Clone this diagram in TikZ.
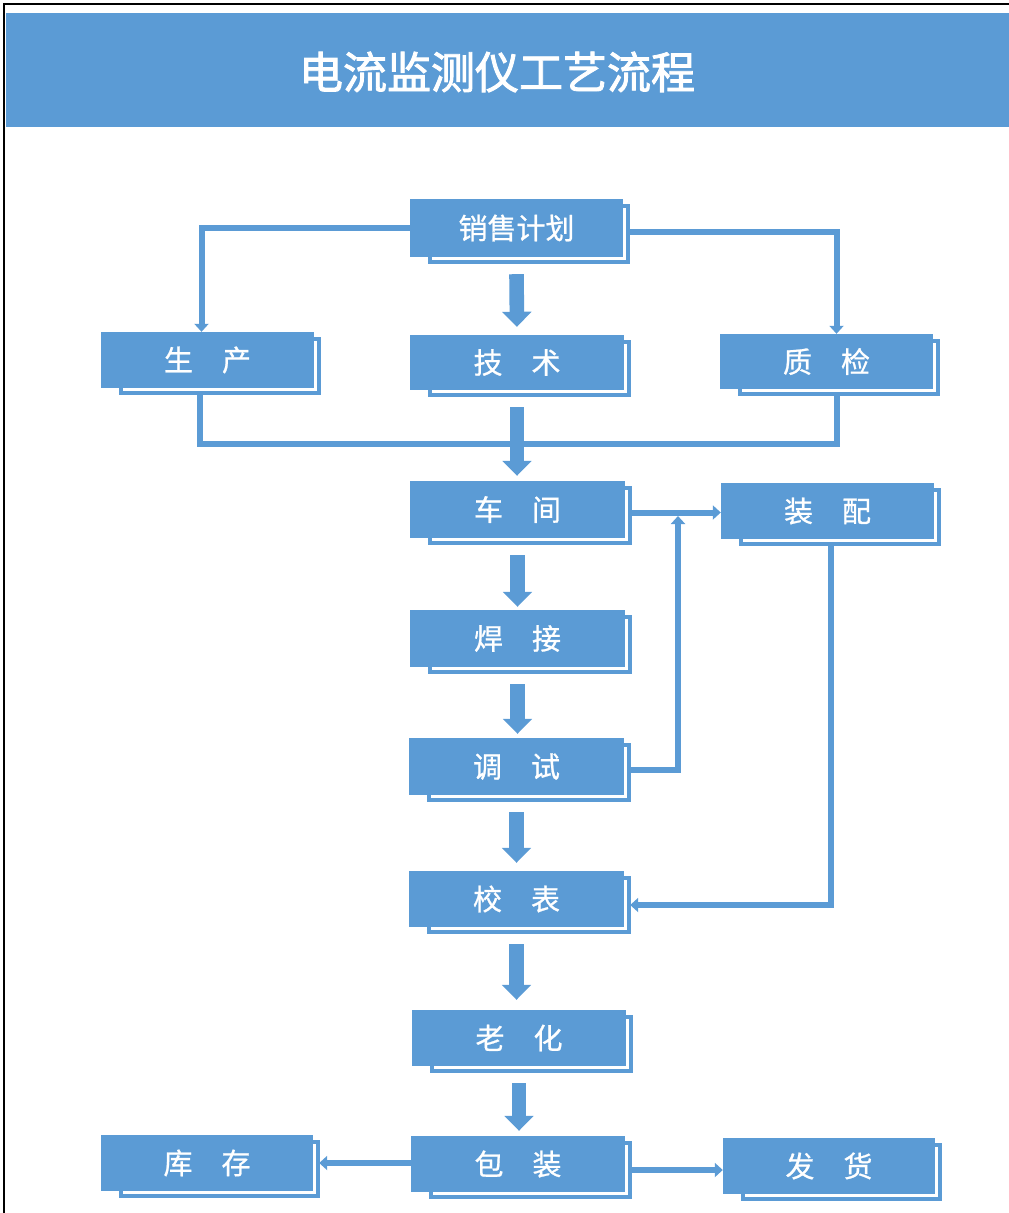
\documentclass[tikz,border=0pt]{standalone}
\usepackage{fontspec}
\setmainfont{Noto Sans CJK SC}
\newfontfamily\titlefont[FakeBold=2]{Noto Sans CJK SC}
\newfontfamily\labelfont[FakeBold=0.8]{Noto Sans CJK SC}
\usetikzlibrary{arrows.meta,calc}
\definecolor{fblue}{HTML}{5B9BD5}
\tikzset{
  mainbox/.style={fill=fblue, draw=none, inner sep=0pt, text=white,
    font=\labelfont\fontsize{29}{34}\selectfont, anchor=center},
  shadowline/.style={draw=fblue, line width=4.5pt, fill=white},
  conn/.style={draw=fblue, line width=6pt},
  tip/.style={-{Triangle[width=14pt,length=8pt]}},
  blockarrow/.style={draw=fblue, line width=14.6pt, -{Triangle[width=28.5pt,length=15pt]}},
}
\newcommand\flowbox[6]{% name, x1, y1, x2, y2, text
  \draw[shadowline] (#2+20,#3+7) rectangle (#4+5,#5+5);
  \node[mainbox, minimum width={(#4-#2)*1pt}, minimum height={(#5-#3)*1pt}]
    (#1) at ({(#2+#4)/2},{(#3+#5)/2}) {#6};
}
\begin{document}
\begin{tikzpicture}[x=1pt,y=-1pt]
\useasboundingbox (0,0) rectangle (1009,1213);
% frame and title
\draw[black, line width=2pt] (4,1220) -- (4,4) -- (1015,4);
\fill[fblue] (6,13) rectangle (1012,127);
\node[text=white, font=\titlefont\fontsize{44}{50}\selectfont] (title) at (497,72) {电流监测仪工艺流程};
% boxes
\flowbox{xs}{410}{199}{623}{257}{销售计划}
\flowbox{sc}{101}{332}{314}{388}{生\quad 产}
\flowbox{js}{410}{335}{624}{390}{技\quad 术}
\flowbox{zj}{720}{334}{933}{389}{质\quad 检}
\flowbox{cj}{410}{481}{625}{538}{车\quad 间}
\flowbox{zp}{721}{483}{934}{539}{装\quad 配}
\flowbox{hj}{410}{610}{625}{667}{焊\quad 接}
\flowbox{ts}{409}{738}{624}{795}{调\quad 试}
\flowbox{jb}{409}{871}{624}{927}{校\quad 表}
\flowbox{lh}{412}{1010}{626}{1066}{老\quad 化}
\flowbox{kc}{101}{1135}{313}{1191}{库\quad 存}
\flowbox{bz}{411}{1136}{625}{1192}{包\quad 装}
\flowbox{fh}{723}{1138}{935}{1194}{发\quad 货}
% thin connectors
\draw[conn,tip] (xs.west) -| ([xshift=-6pt]sc.north);
\draw[conn,tip] ([xshift=5pt,yshift=-4pt]xs.east) -| ([xshift=10pt]zj.north);
\coordinate (m) at (517,444);
\draw[conn] ([xshift=-8pt,yshift=-6pt]sc.south) |- (m) -| ([xshift=10pt,yshift=-6pt]zj.south);
\coordinate (c1) at ([xshift=5pt,yshift=-3pt]cj.east);
\draw[conn,tip] (c1) -- (c1 -| zp.west);
\coordinate (j1) at (678,516);
\draw[conn,tip] ([xshift=5pt,yshift=-3pt]ts.east) -| (j1);
\draw[conn,tip] ([xshift=3pt,yshift=-7pt]zp.south) |- ([xshift=6pt,yshift=-6pt]jb.east);
\draw[conn,tip] ([yshift=1pt]bz.west) -- ([xshift=6pt,yshift=1pt]bz.west -| kc.east);
\coordinate (c2) at ([xshift=5pt,yshift=-6pt]bz.east);
\draw[conn,tip] (c2) -- (c2 -| fh.west);
% block arrows
\draw[blockarrow] ([yshift=-17pt]xs.south) -- ([yshift=8pt]js.north);
\draw[blockarrow] ([yshift=-17pt]js.south) -- ([yshift=5pt]js.south |- cj.north);
\draw[blockarrow] ([yshift=-17pt]cj.south) -- ([yshift=3pt]cj.south |- hj.north);
\draw[blockarrow] ([yshift=-17pt]hj.south) -- ([yshift=4pt]hj.south |- ts.north);
\draw[blockarrow] ([yshift=-17pt]ts.south) -- ([yshift=8pt]ts.south |- jb.north);
\draw[blockarrow] ([yshift=-17pt]jb.south) -- ([yshift=10pt]jb.south |- lh.north);
\draw[blockarrow] ([yshift=-17pt]lh.south) -- ([yshift=5pt]lh.south |- bz.north);
\end{tikzpicture}
\end{document}
